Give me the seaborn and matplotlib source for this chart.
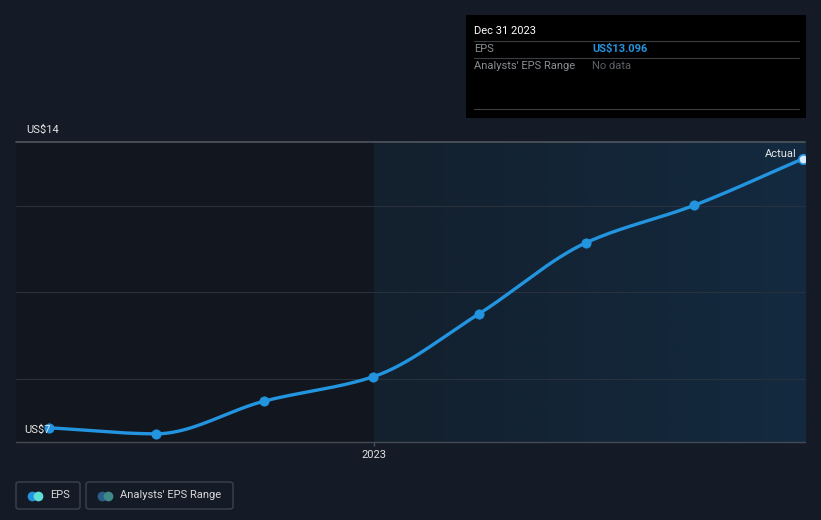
import numpy as np
import pandas as pd
import matplotlib
matplotlib.use("Agg")
import matplotlib.pyplot as plt
import matplotlib.dates as mdates
from matplotlib.patches import FancyBboxPatch, Rectangle
from matplotlib.lines import Line2D
from matplotlib.colors import LinearSegmentedColormap
import seaborn as sns

# ---- data ----
dates = ["2022-03-31", "2022-06-30", "2022-09-30", "2022-12-31",
         "2023-03-31", "2023-06-30", "2023-09-30", "2023-12-31"]
eps = [6.86, 6.72, 7.48, 8.04, 9.50, 11.15, 12.02, 13.096]
y_tick_labels = ["US$14", "US$7"]
x_tick_label = "2023"

W, H = 821, 520
BG = "#151b26"
BLUE = "#2394df"

sns.set_theme(style="dark")
plt.rcParams['font.family'] = ['Roboto', 'DejaVu Sans']

fig = plt.figure(figsize=(W / 100, H / 100), dpi=100, facecolor=BG)

def fx(px):
    return px / W

def fy(py):
    return 1 - py / H

ax = fig.add_axes([fx(16), fy(442), fx(805) - fx(16), fy(142.3) - fy(442)])
ax.set_facecolor("#12171f")

df = pd.DataFrame({"date": pd.to_datetime(dates), "eps": eps})
xnum = mdates.date2num(df["date"])

xmin = mdates.date2num(pd.Timestamp("2022-03-03"))
xmax = mdates.date2num(pd.Timestamp("2024-01-02"))
ymin, ymax = 6.53, 13.48

# shaded region (gradient) after the 2023 mark
split = mdates.date2num(pd.Timestamp("2023-01-01"))
grad = np.linspace(0, 1, 256).reshape(1, -1)
cmap = LinearSegmentedColormap.from_list("g", ["#13202d", "#132a40"])
ax.imshow(grad, extent=[split, xmax, ymin, ymax], aspect="auto", cmap=cmap,
          zorder=0, interpolation="bilinear")

# gridlines
for g in [8, 10, 12]:
    ax.axhline(g, color="#29313c", lw=0.8, zorder=1)
ax.axhline(ymax, color="#50565f", lw=1.2, zorder=1, clip_on=False)
ax.axhline(ymin, color="#444a54", lw=1.0, zorder=1, clip_on=False)

# monotone cubic (Fritsch-Carlson) for smooth rendering of the line
def pchip(x, y, xs):
    x = np.asarray(x, float); y = np.asarray(y, float)
    h = np.diff(x); d = np.diff(y) / h
    n = len(x)
    m = np.zeros(n)
    for k in range(1, n - 1):
        if d[k - 1] * d[k] <= 0:
            m[k] = 0
        else:
            w1 = 2 * h[k] + h[k - 1]; w2 = h[k] + 2 * h[k - 1]
            m[k] = (w1 + w2) / (w1 / d[k - 1] + w2 / d[k])
    m[0] = d[0]; m[-1] = d[-1]
    out = np.empty_like(xs)
    for i, xv in enumerate(xs):
        k = min(max(np.searchsorted(x, xv) - 1, 0), n - 2)
        t = (xv - x[k]) / h[k]
        h00 = 2 * t**3 - 3 * t**2 + 1; h10 = t**3 - 2 * t**2 + t
        h01 = -2 * t**3 + 3 * t**2; h11 = t**3 - t**2
        out[i] = h00 * y[k] + h10 * h[k] * m[k] + h01 * y[k + 1] + h11 * h[k] * m[k + 1]
    return out

xs = np.linspace(xnum[0], xnum[-1], 400)
ys = pchip(xnum, df["eps"].values, xs)
smooth = pd.DataFrame({"date": mdates.num2date(xs), "eps": ys})
sns.lineplot(data=smooth, x="date", y="eps", ax=ax, color=BLUE, lw=2.4, zorder=3)
sns.scatterplot(data=df.iloc[:-1], x="date", y="eps", ax=ax, color=BLUE, s=45,
                edgecolor=BLUE, zorder=4)
ax.scatter(df["date"].iloc[-1:], df["eps"].iloc[-1:], s=45, facecolor="#d8ecfb",
           edgecolor=BLUE, linewidth=1.2, zorder=5)

ax.set_xlim(xmin, xmax)
ax.set_ylim(ymin, ymax)
ax.set_xlabel(""); ax.set_ylabel("")
ax.set_yticks([])
ax.set_xticks([split])
ax.set_xticklabels([x_tick_label])
ax.tick_params(axis="x", colors="#4a525d", length=3, width=1, labelcolor="#e0e0e0",
               labelsize=8, pad=3, bottom=True, direction="out")
for s in ax.spines.values():
    s.set_visible(False)
ax.grid(False)

fig.text(fx(26), fy(130), y_tick_labels[0], color="#e6e6e6", fontsize=8,
         va="center", ha="left")
fig.text(fx(24), fy(430), y_tick_labels[1], color="#e6e6e6", fontsize=8,
         va="center", ha="left", zorder=2)
fig.text(fx(797), fy(154), "Actual", color="#e6e6e6", fontsize=8, ha="right", va="center")

# tooltip box
fig.add_artist(Rectangle((fx(466), fy(118)), fx(806) - fx(466), fy(15) - fy(118),
                         transform=fig.transFigure, facecolor="#000000", edgecolor="none"))
fig.text(fx(474), fy(31), "Dec 31 2023", color="#ffffff", fontsize=8, va="center")
for yy in [41, 58, 109]:
    fig.add_artist(Line2D([fx(474), fx(799)], [fy(yy), fy(yy)], transform=fig.transFigure,
                          color="#3a3d42", lw=0.8))
fig.text(fx(474), fy(49), "EPS", color="#8a8d92", fontsize=8, va="center")
fig.text(fx(592), fy(49), "US$13.096", color=BLUE, fontsize=8, va="center",
         fontweight="bold")
fig.text(fx(474), fy(66), "Analysts' EPS Range", color="#8a8d92", fontsize=8, va="center")
fig.text(fx(592), fy(66), "No data", color="#5d6066", fontsize=8, va="center")

# legend
def legend_box(x0, x1, c1, c2, label, tx):
    fig.add_artist(FancyBboxPatch((fx(x0), fy(509)), fx(x1) - fx(x0), fy(482) - fy(509),
                                  boxstyle="round,pad=0,rounding_size=0.004",
                                  transform=fig.transFigure, facecolor="none",
                                  edgecolor="#3c434e", lw=1))
    fig.add_artist(Line2D([fx(x0 + 16)], [fy(495.5)], marker="o", ms=7, color=c1,
                          mec="none", transform=fig.transFigure))
    fig.add_artist(Line2D([fx(x0 + 22)], [fy(495.5)], marker="o", ms=7, color=c2,
                          mec="none", transform=fig.transFigure))
    fig.text(fx(tx), fy(495.5), label, color="#d8d8d8", fontsize=8, va="center")

legend_box(16, 80, BLUE, "#5ee0d6", "EPS", 50)
legend_box(86, 233, "#2a5f8c", "#3f8a88", "Analysts' EPS Range", 120)

fig.savefig("out.png", dpi=100, facecolor=BG)
